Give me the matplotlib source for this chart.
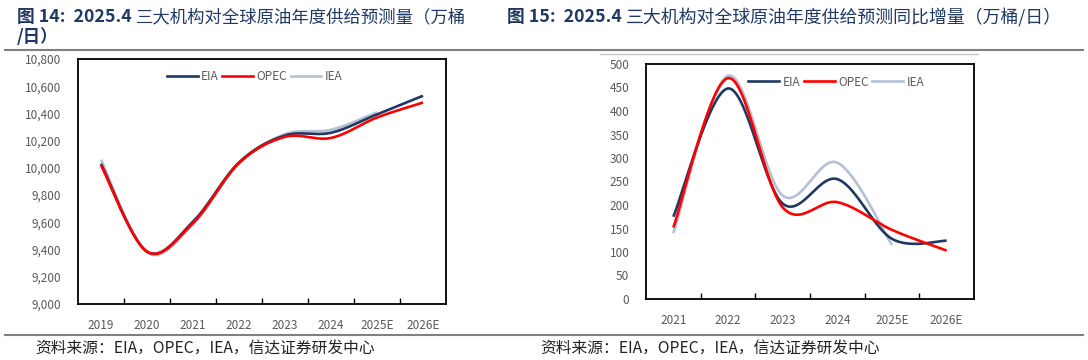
import numpy as np
import matplotlib
matplotlib.use("Agg")
import matplotlib.pyplot as plt
from matplotlib.lines import Line2D

plt.rcParams['font.family'] = ['Noto Sans CJK SC', 'DejaVu Sans']

# ---------------- data ----------------
years_l = ["2019", "2020", "2021", "2022", "2023", "2024", "2025E", "2026E"]
eia_l = [10030, 9385, 9605, 10040, 10238, 10258, 10393, 10530]
opec_l = [10020, 9385, 9595, 10035, 10228, 10220, 10370, 10480]
iea_l = [10060, 9380, 9585, 10035, 10248, 10280, 10408]

years_r = ["2021", "2022", "2023", "2024", "2025E", "2026E"]
eia_r = [175, 448, 203, 255, 128, 124]
opec_r = [152, 470, 195, 206, 147, 103]
iea_r = [140, 475, 220, 290, 115]

series_names = ["EIA", "OPEC", "IEA"]
colors = {"EIA": "#1F3864", "OPEC": "#FF0000", "IEA": "#B4C0D4"}

title_l_bold = "图 14:  2025.4 "
title_l_rest = "三大机构对全球原油年度供给预测量（万桶"
title_l_line2 = "/日）"
title_r_bold = "图 15:  2025.4 "
title_r_rest = "三大机构对全球原油年度供给预测同比增量（万桶/日）"
source = "资料来源：EIA，OPEC，IEA，信达证券研发中心"


def smooth(y, n=30):
    """Excel-like smoothed line (Catmull-Rom bezier)."""
    x = np.arange(len(y), dtype=float)
    y = np.asarray(y, dtype=float)
    P = np.column_stack([x, y])
    out = []
    for i in range(len(P) - 1):
        p0 = P[i - 1] if i > 0 else P[i]
        p1 = P[i]
        p2 = P[i + 1]
        p3 = P[i + 2] if i + 2 < len(P) else P[i + 1]
        c1 = p1 + (p2 - p0) / 6.0
        c2 = p2 - (p3 - p1) / 6.0
        t = np.linspace(0, 1, n)[:, None]
        b = ((1 - t) ** 3) * p1 + 3 * ((1 - t) ** 2) * t * c1 + 3 * (1 - t) * t ** 2 * c2 + t ** 3 * p2
        out.append(b if i == 0 else b[1:])
    b = np.vstack(out)
    return b[:, 0], b[:, 1]


W, H = 1088, 360
fig = plt.figure(figsize=(W / 100, H / 100), dpi=100)

tick_color = "#595959"


def setup_axes(rect, cats, ylim, yticks, yfmt, data, legend_pos):
    ax = fig.add_axes(rect)
    for name, vals in zip(series_names, data):
        xs, ys = smooth(vals)
        z = {"IEA": 2, "EIA": 3, "OPEC": 4}[name]
        ax.plot(xs, ys, color=colors[name], lw=1.9, zorder=z, solid_capstyle="butt")
    ax.set_xlim(-0.5, len(cats) - 0.5)
    ax.set_ylim(*ylim)
    ax.set_yticks(yticks)
    ax.set_yticklabels([yfmt(v) for v in yticks])
    ax.set_xticks(range(len(cats)))
    ax.set_xticklabels(cats)
    ax.set_xticks(np.arange(0.5, len(cats) - 1, 1.0), minor=True)
    ax.tick_params(axis="x", which="major", length=0, pad=11, labelsize=8.5, labelcolor=tick_color)
    ax.tick_params(axis="x", which="minor", length=4, direction="in", width=1.0, color="black")
    ax.tick_params(axis="y", which="major", length=0, pad=12, labelsize=8.5, labelcolor=tick_color)
    for s in ax.spines.values():
        s.set_linewidth(1.3)
        s.set_color("black")
    handles = [Line2D([], [], color=colors[n], lw=1.9) for n in series_names]
    ax.legend(handles, series_names, loc="center", bbox_to_anchor=legend_pos, ncol=3,
              frameon=False, fontsize=8.5, handlelength=2.6, handletextpad=0.3,
              columnspacing=0.3, labelcolor=tick_color)
    return ax


ax1 = setup_axes([78 / W, 1 - 304 / H, 368 / W, 245 / H], years_l, (9000, 10800),
                 list(range(9000, 10801, 200)), lambda v: f"{v:,}",
                 [eia_l, opec_l, iea_l], (0.48, 0.93))
ax2 = setup_axes([646 / W, 1 - 299 / H, 328 / W, 235 / H], years_r, (0, 500),
                 list(range(0, 501, 50)), lambda v: f"{v}",
                 [eia_r, opec_r, iea_r], (0.58, 0.923))

# ---------------- titles ----------------
navy = "#1F3864"
fig.canvas.draw()
renderer = fig.canvas.get_renderer()


def title(x, y, bold, rest, size=12.5):
    t = fig.text(x / W, 1 - y / H, bold, fontsize=12.8, fontweight="bold", color=navy,
                 va="center", ha="left")
    bb = t.get_window_extent(renderer=renderer)
    fig.text(bb.x1 / W, 1 - y / H, rest, fontsize=size, color=navy, va="center", ha="left")


title(17, 17, title_l_bold, title_l_rest)
fig.text(17 / W, 1 - 37 / H, title_l_line2, fontsize=12.5, color=navy, va="center", ha="left",
         fontweight="bold")
title(507, 17, title_r_bold, title_r_rest, size=12.9)

# separator lines
fig.add_artist(Line2D([5 / W, 1083 / W], [1 - 49.5 / H, 1 - 49.5 / H], color="#808080", lw=1.5))
fig.add_artist(Line2D([600 / W, 978 / W], [1 - 54 / H, 1 - 54 / H], color="#C8C8C8", lw=1.0))
fig.add_artist(Line2D([5 / W, 1083 / W], [1 - 335 / H, 1 - 335 / H], color="#808080", lw=1.5))

# source
fig.text(35 / W, 1 - 348 / H, source, fontsize=11.3, color="#222222", va="center", ha="left",
         style="italic")
fig.text(540 / W, 1 - 348 / H, source, fontsize=11.3, color="#222222", va="center", ha="left",
         style="italic")

fig.savefig("out.png", dpi=100)
